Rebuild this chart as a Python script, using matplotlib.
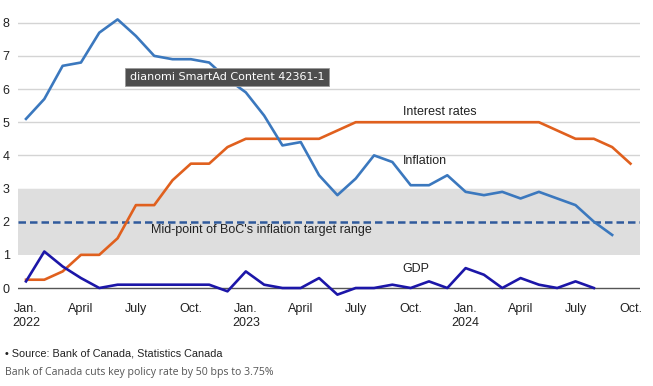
import matplotlib.pyplot as plt
import numpy as np

# DADOS (mensal, jan 2022 -> out 2024)
inflacao = [5.1, 5.7, 6.7, 6.8, 7.7, 8.1, 7.6, 7.0, 6.9, 6.9, 6.8, 6.3,
            5.9, 5.2, 4.3, 4.4, 3.4, 2.8, 3.3, 4.0, 3.8, 3.1, 3.1, 3.4,
            2.9, 2.8, 2.9, 2.7, 2.9, 2.7, 2.5, 2.0, 1.6]
juros = [0.25, 0.25, 0.5, 1.0, 1.0, 1.5, 2.5, 2.5, 3.25, 3.75, 3.75, 4.25,
         4.5, 4.5, 4.5, 4.5, 4.5, 4.75, 5.0, 5.0, 5.0, 5.0, 5.0, 5.0,
         5.0, 5.0, 5.0, 5.0, 5.0, 4.75, 4.5, 4.5, 4.25, 3.75]
pib = [0.2, 1.1, 0.65, 0.3, 0.0, 0.1, 0.1, 0.1, 0.1, 0.1, 0.1, -0.1,
       0.5, 0.1, 0.0, 0.0, 0.3, -0.2, 0.0, 0.0, 0.1, 0.0, 0.2, 0.0,
       0.6, 0.4, 0.0, 0.3, 0.1, 0.0, 0.2, 0.0]
rotulos_x = ['Jan.\n2022', 'April', 'July', 'Oct.', 'Jan.\n2023', 'April', 'July', 'Oct.',
             'Jan.\n2024', 'April', 'July', 'Oct.']
faixa_meta = (1, 3)
meio_meta = 2

plt.rcParams['font.family'] = ['Liberation Sans', 'DejaVu Sans']

fig = plt.figure(figsize=(6.53, 3.86), dpi=100)
ax = fig.add_axes([18/653, 1-296.3/386, 622/653, (296.3-16.1)/386])

ax.set_xlim(-0.437, 33.52)
ax.set_ylim(-0.25, 8.2)

# grade e faixa
for v in range(3, 9):
    ax.axhline(v, color='#d4d4d4', lw=1, zorder=0)
ax.axhspan(faixa_meta[0], faixa_meta[1], color='#dedede', lw=0, zorder=1)
ax.axhline(0, color='#555555', lw=1, zorder=2)
ax.axhline(meio_meta, color='#2f5a9c', lw=1.8, ls=(0, (3, 1.6)), zorder=3)

ax.plot(np.arange(len(juros)), juros, color='#e0601e', lw=1.9, zorder=4)
ax.plot(np.arange(len(inflacao)), inflacao, color='#3b78be', lw=1.9, zorder=5)
ax.plot(np.arange(len(pib)), pib, color='#1c16a8', lw=1.9, zorder=5)

ax.set_xticks(np.arange(0, 34, 3))
ax.set_xticklabels(rotulos_x, fontsize=9, color='#222222', linespacing=1.25)
ax.set_yticks(range(0, 9))
ax.set_yticklabels([str(v) for v in range(0, 9)], fontsize=9, color='#222222')
ax.tick_params(length=0, pad=5)
ax.tick_params(axis='y', pad=6)
for s in ax.spines.values():
    s.set_visible(False)

# rotulos das series
ax.text(22.6, 5.3, 'Interest rates', fontsize=9, color='#222222', ha='center', va='center')
ax.text(21.8, 3.83, 'Inflation', fontsize=9, color='#222222', ha='center', va='center')
ax.text(6.8, 1.93, "Mid-point of BoC's inflation target range", fontsize=9, color='#222222',
        ha='left', va='top')
ax.text(21.3, 0.57, 'GDP', fontsize=9, color='#222222', ha='center', va='center')

# caixa do anuncio
fig.text(227/653, 1-77/386, 'dianomi SmartAd Content 42361-1', fontsize=8, color='white',
         ha='center', va='center', family=['DejaVu Sans'],
         bbox=dict(boxstyle='square,pad=0.4', fc='#4e4e4e', ec='#9a9a9a', lw=0.6))

fig.text(5/653, 1-353/386, '\u2022 Source: Bank of Canada, Statistics Canada', fontsize=7.8,
         color='#222222', ha='left', va='center')
fig.text(5/653, 1-373/386, 'Bank of Canada cuts key policy rate by 50 bps to 3.75%', fontsize=7.6,
         color='#555555', ha='left', va='center', family=['Open Sans', 'DejaVu Sans'])

fig.savefig('out.png', dpi=100)
